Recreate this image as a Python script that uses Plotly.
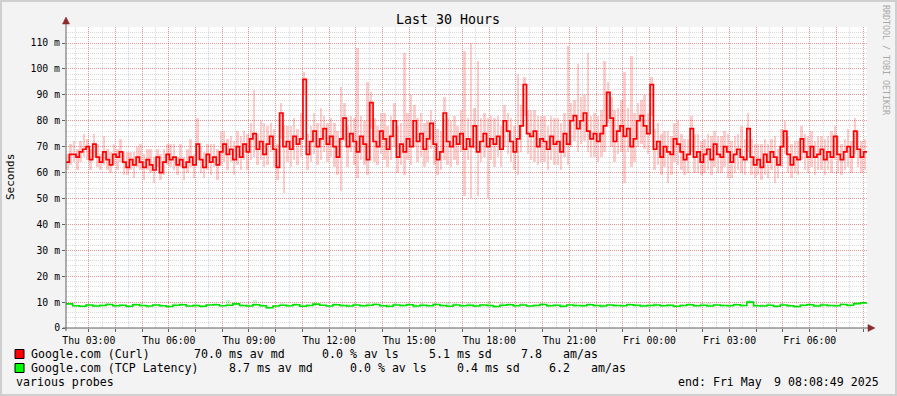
import pandas as pd
import plotly.graph_objects as go

# ---------------- data ----------------
start_time = "2025-05-08 02:08:49"
end_time = "2025-05-09 08:08:49"
step_min = 7.5
green_step_min = 15

curl_median = [
    64, 67, 67, 66, 68, 69, 70, 65,
    71, 66, 64, 68, 65, 63, 67, 66,
    68, 64, 62, 65, 63, 66, 64, 62,
    65, 63, 61, 66, 60, 64, 67, 65,
    66, 63, 65, 62, 64, 66, 63, 71,
    65, 62, 67, 64, 66, 63, 68, 71,
    67, 69, 65, 70, 66, 71, 68, 73,
    75, 69, 72, 67, 71, 74, 69, 62,
    83, 70, 72, 69, 74, 71, 73, 96,
    67, 72, 76, 70, 73, 77, 71, 74,
    70, 66, 73, 81, 70, 75, 72, 68,
    74, 71, 65, 87, 72, 70, 76, 73,
    69, 74, 80, 66, 71, 68, 73, 70,
    80, 72, 75, 69, 73, 79, 71, 65,
    68, 83, 72, 70, 74, 71, 75, 69,
    73, 70, 78, 68, 72, 75, 70, 73,
    71, 74, 69, 80, 76, 72, 68, 73,
    78, 94, 75, 74, 76, 70, 73, 72,
    69, 74, 71, 72, 68, 75, 71, 80,
    82, 77, 80, 83, 76, 73, 75, 72,
    75, 78, 91, 81, 72, 76, 78, 74,
    77, 70, 73, 80, 82, 78, 75, 94,
    69, 72, 66, 70, 68, 67, 73, 71,
    68, 65, 67, 77, 66, 68, 64, 67,
    69, 65, 71, 67, 66, 70, 68, 64,
    67, 69, 66, 65, 77, 66, 63, 65,
    62, 67, 64, 68, 66, 63, 70, 76,
    67, 63, 66, 65, 73, 68, 66, 70,
    66, 67, 69, 65, 68, 66, 74, 67,
    65, 68, 70, 66, 76, 69, 66, 68,
]

curl_smoke_up = [
    3, 4, 5, 3, 4, 6, 3, 4,
    4, 5, 3, 6, 4, 5, 4, 3,
    5, 4, 6, 3, 5, 4, 7, 5,
    4, 6, 5, 3, 7, 5, 4, 6,
    5, 3, 6, 4, 5, 7, 4, 10,
    5, 6, 4, 7, 5, 6, 8, 5,
    6, 5, 7, 6, 8, 5, 7, 6,
    17, 6, 8, 12, 7, 5, 8, 9,
    4, 8, 6, 9, 7, 6, 10, 3,
    8, 6, 7, 9, 12, 5, 8, 7,
    9, 10, 20, 6, 8, 7, 9, 40,
    8, 9, 30, 4, 9, 8, 7, 10,
    9, 8, 7, 12, 8, 38, 10, 20,
    6, 9, 8, 10, 7, 5, 9, 12,
    8, 6, 9, 10, 8, 7, 9, 38,
    8, 40, 7, 35, 9, 8, 11, 9,
    10, 8, 9, 6, 7, 9, 10, 25,
    8, 3, 9, 10, 8, 12, 9, 10,
    9, 8, 10, 9, 11, 8, 38, 7,
    6, 25, 9, 7, 30, 9, 8, 10,
    9, 25, 4, 8, 12, 9, 10, 25,
    8, 35, 10, 7, 6, 12, 8, 3,
    8, 7, 9, 6, 8, 7, 6, 9,
    7, 8, 6, 5, 9, 7, 8, 6,
    6, 9, 5, 7, 8, 6, 7, 8,
    7, 6, 12, 8, 6, 7, 8, 6,
    9, 6, 7, 5, 8, 6, 7, 4,
    7, 8, 6, 7, 5, 7, 8, 6,
    6, 7, 5, 8, 6, 10, 4, 7,
    6, 5, 7, 6, 5, 7, 6, 5,
]

curl_smoke_dn = [
    3, 4, 3, 5, 4, 3, 5, 4,
    5, 4, 3, 5, 4, 3, 4, 5,
    4, 5, 3, 4, 5, 4, 3, 5,
    4, 3, 5, 4, 3, 5, 4, 3,
    5, 4, 3, 5, 4, 4, 5, 6,
    5, 4, 6, 5, 4, 6, 5, 7,
    6, 5, 6, 7, 5, 6, 7, 8,
    9, 6, 7, 5, 8, 6, 7, 5,
    10, 18, 8, 7, 9, 8, 7, 6,
    6, 8, 9, 7, 8, 9, 7, 8,
    8, 7, 20, 9, 8, 7, 9, 10,
    9, 8, 6, 10, 8, 7, 9, 8,
    7, 9, 10, 6, 8, 9, 8, 7,
    10, 8, 9, 7, 9, 10, 8, 6,
    7, 18, 9, 8, 9, 8, 7, 18,
    8, 20, 9, 17, 8, 9, 20, 8,
    9, 8, 7, 10, 9, 8, 7, 14,
    10, 12, 8, 9, 12, 7, 9, 8,
    8, 9, 8, 9, 7, 9, 8, 10,
    10, 9, 9, 11, 8, 7, 9, 8,
    9, 10, 12, 11, 8, 9, 10, 18,
    9, 8, 9, 10, 11, 9, 8, 12,
    8, 9, 7, 8, 12, 8, 9, 8,
    7, 6, 7, 9, 6, 8, 5, 7,
    8, 6, 9, 7, 6, 8, 10, 6,
    7, 8, 6, 6, 9, 7, 5, 6,
    5, 8, 6, 7, 10, 5, 8, 9,
    7, 5, 6, 6, 8, 7, 6, 8,
    7, 6, 8, 6, 7, 6, 9, 7,
    6, 7, 8, 6, 9, 7, 6, 7,
]

tcp_median = [
    9.3, 8.6, 8.4, 8.9, 8.5, 8.7, 9.1, 8.6, 8.8, 8.4, 9.0, 8.7, 8.5, 8.9, 8.6, 8.3, 8.8, 9.0, 8.5, 8.7,
    8.4, 8.9, 9.0, 8.6, 8.8, 9.3, 8.7, 8.5, 9.0, 8.6, 7.8, 8.5, 8.8, 8.6, 9.0, 8.4, 8.7, 9.2, 8.8, 8.5,
    9.0, 8.7, 8.5, 8.9, 8.6, 8.8, 9.1, 8.6, 8.4, 8.9, 8.7, 9.0, 8.5, 8.8, 8.6, 9.1, 8.7, 8.4, 8.9, 8.6,
    8.8, 8.5, 8.9, 8.7, 8.3, 8.8, 9.0, 8.6, 8.9, 8.5, 8.7, 9.1, 8.6, 8.8, 8.4, 8.9, 8.7, 8.6, 9.0, 8.7,
    8.5, 8.9, 8.7, 8.6, 9.0, 8.8, 8.5, 8.7, 8.9, 8.6, 8.8, 8.4, 8.7, 9.0, 8.6, 8.8, 8.5, 8.9, 8.7, 8.6,
    9.0, 8.7, 10.0, 8.6, 8.5, 8.8, 8.4, 8.9, 8.6, 8.3, 8.8, 9.0, 8.5, 8.9, 8.7, 8.6, 9.1, 8.8, 9.4, 9.7,
]

tcp_smoke_up = [
    0.5, 0.4, 0.6, 0.5, 0.7, 0.4, 0.5, 0.6, 0.4, 0.5, 0.6, 0.8, 0.5, 0.4, 0.6, 0.5, 0.7, 0.5, 0.4, 0.6,
    0.6, 0.5, 0.7, 0.4, 1.9, 0.6, 0.5, 0.8, 2.0, 0.5, 0.6, 0.4, 0.7, 0.5, 0.6, 0.8, 0.5, 0.7, 0.6, 0.5,
    0.6, 0.5, 0.7, 0.6, 0.5, 0.8, 0.6, 0.5, 0.7, 0.6, 0.5, 0.7, 0.6, 0.8, 0.5, 0.6, 0.7, 1.5, 0.6, 0.5,
    0.7, 0.6, 0.5, 1.8, 0.6, 0.7, 0.5, 0.6, 0.8, 0.5, 0.7, 0.6, 0.5, 0.6, 0.7, 0.5, 0.8, 0.6, 0.5, 0.7,
    0.6, 0.5, 0.7, 0.6, 0.5, 0.6, 0.8, 0.5, 0.6, 0.7, 0.5, 0.6, 0.7, 0.5, 0.6, 0.8, 1.2, 0.5, 0.6, 0.7,
    0.5, 0.6, 0.8, 0.5, 0.6, 0.7, 0.5, 0.6, 0.7, 0.5, 0.6, 0.5, 0.7, 0.6, 0.5, 0.6, 0.7, 0.5, 0.6, 0.5,
]

tcp_smoke_dn = [
    0.4, 0.5, 0.4, 0.6, 0.5, 0.4, 0.5, 0.4, 0.6, 0.5, 0.4, 0.5, 0.6, 0.4, 0.5, 0.4, 0.5, 0.6, 0.4, 0.5,
    0.5, 0.4, 0.6, 0.5, 0.4, 0.5, 0.6, 0.4, 0.5, 0.6, 0.4, 0.5, 0.4, 0.6, 0.5, 0.4, 0.5, 0.6, 0.4, 0.5,
    0.4, 0.6, 0.5, 0.4, 0.5, 0.6, 0.4, 0.5, 0.6, 0.4, 0.5, 0.4, 0.6, 0.5, 0.4, 0.5, 0.6, 0.4, 0.5, 0.6,
    0.5, 0.4, 0.6, 0.5, 0.4, 0.5, 0.6, 0.4, 0.5, 0.4, 0.6, 0.5, 0.4, 0.5, 0.6, 0.4, 0.5, 0.6, 0.4, 0.5,
    0.6, 0.4, 0.5, 0.4, 0.6, 0.5, 0.4, 0.5, 0.6, 0.4, 0.5, 0.6, 0.4, 0.5, 0.4, 0.6, 0.5, 0.4, 0.5, 0.6,
    0.4, 0.5, 0.6, 0.4, 0.5, 0.4, 0.6, 0.5, 0.4, 0.5, 0.6, 0.4, 0.5, 0.6, 0.4, 0.5, 0.4, 0.6, 0.5, 0.4,
]

y_tick_values = [0, 10, 20, 30, 40, 50, 60, 70, 80, 90, 100, 110]
y_tick_labels = ["0", "10 m", "20 m", "30 m", "40 m", "50 m", "60 m",
                 "70 m", "80 m", "90 m", "100 m", "110 m"]
y_max = 116.2

title_text = "Last 30 Hours"
y_title = "Seconds"
watermark = "RRDTOOL / TOBI OETIKER"
legend_rows = [
    ("Google.com (Curl)", "#FF0000",
     [(193, "70.0 ms av md"), (321, "0.0 % av ls"), (428, "5.1 ms sd"),
      (520, "7.8"), (562, "am/as")]),
    ("Google.com (TCP Latency)", "#00FF00",
     [(228, "8.7 ms av md"), (349, "0.0 % av ls"), (456, "0.4 ms sd"),
      (548, "6.2"), (590, "am/as")]),
]
footer_left = "various probes"
footer_right_a = "end: Fri May"
footer_right_b = "9 08:08:49 2025"

# ---------------- geometry ----------------
W, H = 897, 396
L, R, T, B = 66, 867, 27, 328
MONO = "DejaVu Sans Mono"


def px(x):
    return (x - L) / (R - L)


def py(y):
    return (B - y) / (B - T)


t0 = pd.Timestamp(start_time)
t1 = pd.Timestamp(end_time)
step = pd.Timedelta(minutes=step_min)
gstep = pd.Timedelta(minutes=green_step_min)
times = [t0 + i * step for i in range(len(curl_median))]
gtimes = [t0 + i * gstep for i in range(len(tcp_median))]

fig = go.Figure()

# red smoke
fig.add_trace(go.Bar(
    x=times,
    y=[u + d for u, d in zip(curl_smoke_up, curl_smoke_dn)],
    base=[m - d for m, d in zip(curl_median, curl_smoke_dn)],
    width=step.total_seconds() * 1000 * 0.75,
    offset=0,
    marker=dict(color="rgba(255,0,0,0.2)", line=dict(width=0)),
    showlegend=False, hoverinfo="skip",
))
# green smoke
fig.add_trace(go.Bar(
    x=gtimes,
    y=[u + d for u, d in zip(tcp_smoke_up, tcp_smoke_dn)],
    base=[m - d for m, d in zip(tcp_median, tcp_smoke_dn)],
    width=gstep.total_seconds() * 1000 * 0.6,
    offset=0,
    marker=dict(color="rgba(0,220,0,0.22)", line=dict(width=0)),
    showlegend=False, hoverinfo="skip",
))
# red median
fig.add_trace(go.Scatter(
    x=times + [t1], y=curl_median + [curl_median[-1]],
    mode="lines", line=dict(color="#FF0000", width=1.7, shape="hv"),
    showlegend=False, hoverinfo="skip",
))
# green median
fig.add_trace(go.Scatter(
    x=gtimes + [t1], y=tcp_median + [tcp_median[-1]],
    mode="lines", line=dict(color="#00E000", width=1.6, shape="hv"),
    showlegend=False, hoverinfo="skip",
))

# x ticks: hourly ticks, labels every 3 hours
hour_ticks = list(pd.date_range(t0.ceil("h"), t1.floor("h"), freq="h"))
hour_text = [t.strftime("%a %H:%M") if t.hour % 3 == 0 else "" for t in hour_ticks]

major_grid = "rgba(255,0,0,0.3)"
minor_grid = "rgba(128,128,128,0.3)"
axis_col = "#606060"

fig.update_xaxes(
    type="date", range=[t0, t1],
    tickmode="array", tickvals=hour_ticks, ticktext=hour_text,
    showgrid=True, gridcolor=major_grid, griddash="1px,1px", gridwidth=1,
    ticks="outside", ticklen=3, tickcolor=axis_col,
    tickfont=dict(family=MONO, size=9.8, color="#000"),
    showline=False, zeroline=False,
    minor=dict(dtick=1800000, tick0="2025-05-08 00:30:00", showgrid=True,
               gridcolor=minor_grid, griddash="1px,1px", gridwidth=1, ticks=""),
)
fig.update_yaxes(
    range=[0, y_max],
    tickmode="array", tickvals=y_tick_values, ticktext=y_tick_labels,
    showgrid=True, gridcolor=major_grid, griddash="1px,1px", gridwidth=1,
    ticks="outside", ticklen=3, tickcolor=axis_col,
    tickfont=dict(family=MONO, size=9.8, color="#000"),
    showline=False, zeroline=False,
    minor=dict(dtick=2, tick0=0, showgrid=True, gridcolor=minor_grid,
               griddash="1px,1px", gridwidth=1, ticks=""),
)

shapes = []
# outer frame
shapes.append(dict(type="rect", xref="paper", yref="paper",
                   x0=px(1), x1=px(W - 1), y0=py(H - 1), y1=py(1),
                   line=dict(color="#CFCFCF", width=2), fillcolor="rgba(0,0,0,0)",
                   layer="above"))
# axes lines
shapes.append(dict(type="line", xref="paper", yref="paper",
                   x0=px(L), x1=px(L), y0=py(B + 3), y1=py(22),
                   line=dict(color=axis_col, width=1), layer="above"))
shapes.append(dict(type="line", xref="paper", yref="paper",
                   x0=px(L - 3), x1=px(R + 2), y0=py(B), y1=py(B),
                   line=dict(color=axis_col, width=1), layer="above"))
# arrow heads
up_arrow = "M {} {} L {} {} L {} {} Z".format(
    px(L - 3.5), py(24), px(L + 3.5), py(24), px(L), py(17))
right_arrow = "M {} {} L {} {} L {} {} Z".format(
    px(R + 1), py(B - 3.5), px(R + 1), py(B + 3.5), px(R + 8), py(B))
for p in (up_arrow, right_arrow):
    shapes.append(dict(type="path", xref="paper", yref="paper", path=p,
                       fillcolor="#8B2A2A", line=dict(color="#8B2A2A", width=0.5),
                       layer="above"))

annotations = []


def txt(x, y, s, size=11.6, anchor="left", color="#000", angle=0):
    annotations.append(dict(x=px(x), y=py(y), xref="paper", yref="paper",
                            text=s, showarrow=False, xanchor=anchor,
                            yanchor="middle", textangle=angle,
                            font=dict(family=MONO, size=size, color=color)))


txt(448, 19, title_text, size=13.3, anchor="center")
txt(10, 177, y_title, size=11, anchor="center", angle=-90)
txt(886, 60, watermark, size=8.3, anchor="center", color="#A8A8A8", angle=90)

row_y = [354, 368]
for (name, col, parts), yy in zip(legend_rows, row_y):
    shapes.append(dict(type="rect", xref="paper", yref="paper",
                       x0=px(15), x1=px(24), y0=py(yy + 4.5), y1=py(yy - 4.5),
                       fillcolor=col, line=dict(color="#000", width=1),
                       layer="above"))
    txt(29, yy, name)
    for xx, s in parts:
        txt(xx - 1, yy, s)
txt(14, 382, footer_left)
txt(881, 382, footer_right_b, anchor="right")
txt(764, 382, footer_right_a, anchor="right")

fig.update_layout(
    width=W, height=H,
    margin=dict(l=L, r=W - R, t=T, b=H - B, pad=0),
    paper_bgcolor="#F3F3F3", plot_bgcolor="#FFFFFF",
    barmode="overlay", bargap=0,
    shapes=shapes, annotations=annotations,
    showlegend=False,
)

fig.write_html(
    "out.html",
    config={"displayModeBar": False},
    post_script="document.body.style.margin='0';document.body.style.overflow='hidden';",
)
